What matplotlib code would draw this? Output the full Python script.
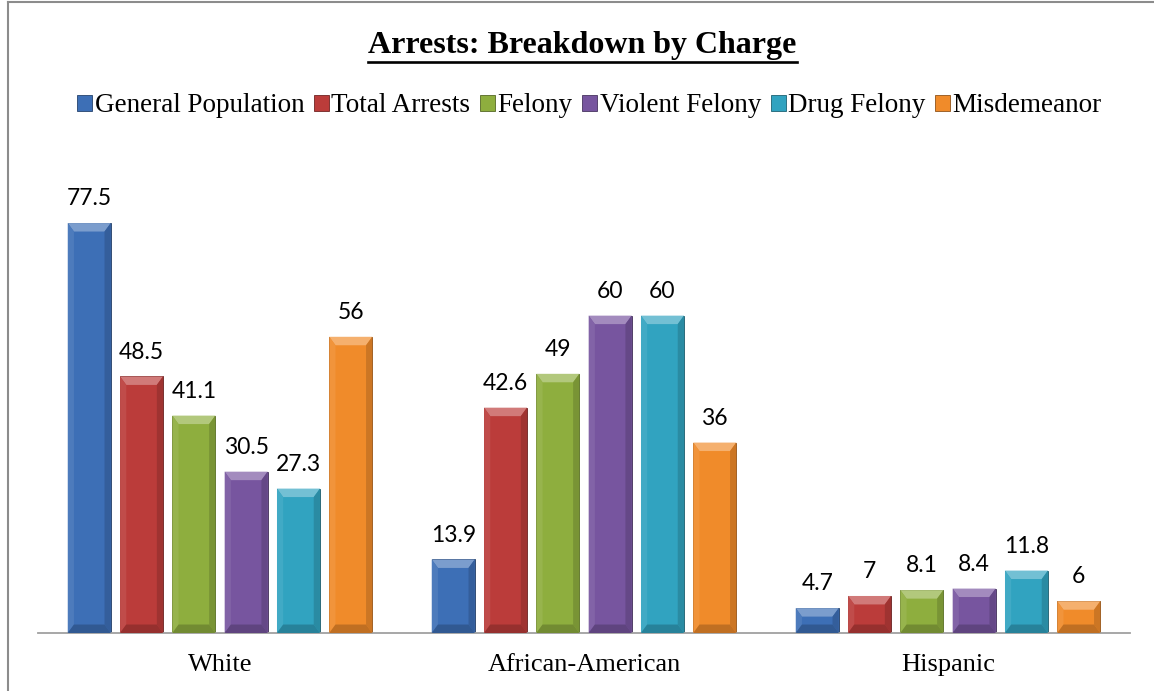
import matplotlib.pyplot as plt
from matplotlib.patches import Polygon, Patch
from matplotlib.lines import Line2D
from matplotlib.colors import to_rgb
import numpy as np

groups = ["White", "African-American", "Hispanic"]
series = ["General Population", "Total Arrests", "Felony",
          "Violent Felony", "Drug Felony", "Misdemeanor"]
general_population = [77.5, 13.9, 4.7]
total_arrests = [48.5, 42.6, 7]
felony = [41.1, 49, 8.1]
violent_felony = [30.5, 60, 8.4]
drug_felony = [27.3, 60, 11.8]
misdemeanor = [56, 36, 6]
labels = [["77.5", "13.9", "4.7"], ["48.5", "42.6", "7"], ["41.1", "49", "8.1"],
          ["30.5", "60", "8.4"], ["27.3", "60", "11.8"], ["56", "36", "6"]]

values = [general_population, total_arrests, felony,
          violent_felony, drug_felony, misdemeanor]
colors = ["#3d6fb6", "#bb3c3a", "#8eae3e", "#77559f", "#31a3c0", "#f08b2a"]


def shade(c, f):
    r, g, b = to_rgb(c)
    if f > 0:
        return (r + (1 - r) * f, g + (1 - g) * f, b + (1 - b) * f)
    return (r * (1 + f), g * (1 + f), b * (1 + f))


fig = plt.figure(figsize=(11.54, 6.91), dpi=100)
ax = fig.add_axes([38 / 1154, 1 - 633 / 691, 1092 / 1154, (633 - 183.4) / 691])

x = np.arange(len(groups))
pitch = 0.1437
width = 0.118
bx, by = 0.017, 1.6

for i, (vals, col) in enumerate(zip(values, colors)):
    pos = x + (i - 2.5) * pitch
    ax.bar(pos, vals, width, color=col, edgecolor=shade(col, -0.45),
           linewidth=0.6, zorder=2)
    for xc, h, lab in zip(pos, vals, labels[i]):
        x0, x1 = xc - width / 2, xc + width / 2
        # bevel faces: top light, sides and bottom darker
        ax.add_patch(Polygon([(x0, h), (x1, h), (x1 - bx, h - by), (x0 + bx, h - by)],
                             closed=True, color=shade(col, 0.32), lw=0, zorder=3))
        ax.add_patch(Polygon([(x0, 0), (x0, h), (x0 + bx, h - by), (x0 + bx, by)],
                             closed=True, color=shade(col, 0.08), lw=0, zorder=3))
        ax.add_patch(Polygon([(x1, 0), (x1, h), (x1 - bx, h - by), (x1 - bx, by)],
                             closed=True, color=shade(col, -0.15), lw=0, zorder=3))
        ax.add_patch(Polygon([(x0, 0), (x1, 0), (x1 - bx, by), (x0 + bx, by)],
                             closed=True, color=shade(col, -0.2), lw=0, zorder=3))
        ax.annotate(lab, (xc, h), xytext=(0, 10), textcoords="offset points",
                    ha="center", va="bottom", fontsize=16.5, family="Lato")

ax.set_xlim(-0.5, 2.5)
ax.set_ylim(0, 85)
ax.set_xticks(x)
ax.set_xticklabels(groups, family="Liberation Serif", fontsize=19)
ax.tick_params(axis="x", length=0, pad=15)
ax.set_yticks([])
for s in ["top", "left", "right"]:
    ax.spines[s].set_visible(False)
ax.spines["bottom"].set_color("#a0a0a0")
ax.spines["bottom"].set_linewidth(1.3)

handles = [Patch(facecolor=c, edgecolor=shade(c, -0.4), linewidth=0.6) for c in colors]
fig.legend(handles, series, loc="center", bbox_to_anchor=(589.5 / 1154, 1 - 106 / 691),
           ncol=6, frameon=False, handlelength=0.55, handleheight=0.55,
           handletextpad=0.1, columnspacing=0.35,
           prop={"family": "Liberation Serif", "size": 19.5})

title = fig.text(582.5 / 1154, 1 - 45 / 691, "Arrests: Breakdown by Charge", ha="center",
                 va="center", family="Liberation Serif", fontsize=23, fontweight="bold")
fig.canvas.draw()
bb = title.get_window_extent().transformed(fig.transFigure.inverted())
fig.add_artist(Line2D([bb.x0, bb.x1], [1 - 62 / 691, 1 - 62 / 691],
                      color="black", linewidth=1.9))

# outer chart frame
fig.add_artist(Line2D([7.5 / 1154, 7.5 / 1154], [0, 1 - 1.5 / 691], color="#8c8c8c", lw=1.5))
fig.add_artist(Line2D([7.5 / 1154, 1], [1 - 1.5 / 691, 1 - 1.5 / 691], color="#8c8c8c", lw=1.5))

fig.savefig("out.png", dpi=100)
